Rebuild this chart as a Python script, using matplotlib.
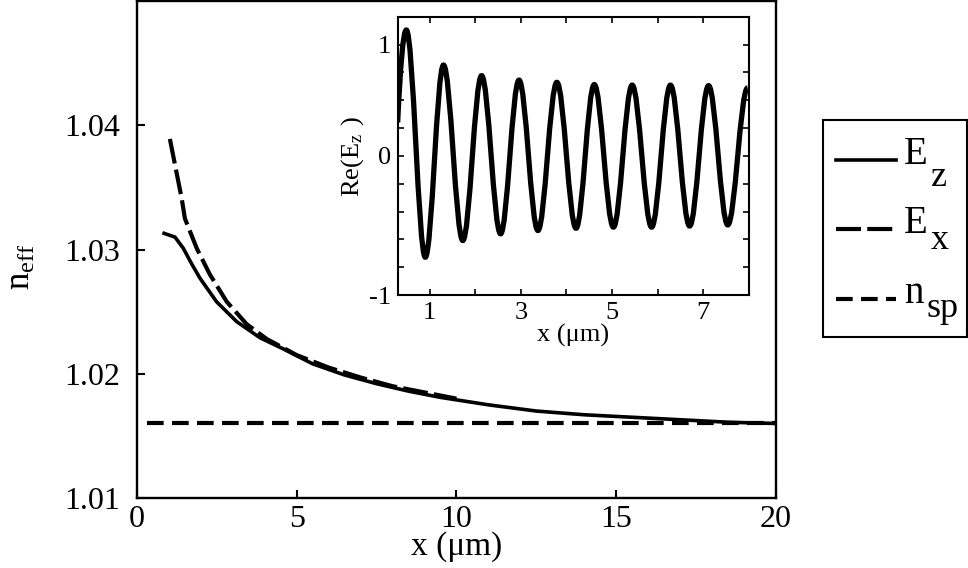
import matplotlib
matplotlib.use("Agg")
import numpy as np
import matplotlib.pyplot as plt
from matplotlib.path import Path
from matplotlib.patches import PathPatch, Rectangle
from matplotlib.text import Annotation
from matplotlib.legend_handler import HandlerLine2D

plt.rcParams['font.family'] = ['Liberation Serif', 'DejaVu Serif']
plt.rcParams['mathtext.fontset'] = 'custom'
plt.rcParams['mathtext.rm'] = 'Liberation Serif'

# main plot: effective index vs x
xEz = [0.85, 1.19, 1.45, 1.70, 1.97, 2.49, 3.12, 3.85, 4.58, 5.5, 6.5, 7.5, 8.5, 9.5, 11.0, 12.5, 14.0, 15.5, 17.0, 18.5, 20.0]
nEz = [1.0313, 1.0310, 1.0301, 1.0289, 1.0277, 1.0258, 1.0242, 1.0229, 1.0220, 1.0208, 1.0199, 1.0192, 1.0186, 1.0181, 1.0175, 1.0170, 1.0167, 1.0165, 1.0163, 1.0161, 1.0160]
xEx = [1.03, 1.40, 1.50, 1.87, 2.28, 2.81, 3.43, 4.06, 5.0, 6.0, 7.0, 8.0, 9.0, 10.0]
nEx = [1.0389, 1.0341, 1.0325, 1.0301, 1.0280, 1.0258, 1.0240, 1.0228, 1.0215, 1.0205, 1.0197, 1.0190, 1.0185, 1.0180]
xsp = [0.3, 20.0]
nsp = [1.016, 1.016]

# inset: Re(Ez) field, start point then peaks/troughs
xf = [0.30, 0.49, 0.906, 1.305, 1.728, 2.14, 2.556, 2.96, 3.375, 3.79, 4.21, 4.61, 5.03, 5.44, 5.867, 6.28, 6.70, 7.115, 7.536, 7.97]
ef = [0.30, 1.13, -0.91, 0.815, -0.76, 0.72, -0.70, 0.68, -0.67, 0.66, -0.65, 0.64, -0.64, 0.635, -0.64, 0.635, -0.63, 0.63, -0.62, 0.61]

leg_main = ['E', 'E', 'n']
leg_sub = ['z', 'x', 'sp']


class LowLine(HandlerLine2D):
    # legend line drawn a bit lower than matplotlib's default
    def create_artists(self, legend, orig_handle, xdescent, ydescent, width, height, fontsize, trans):
        arts = super().create_artists(legend, orig_handle, xdescent, ydescent, width, height, fontsize, trans)
        for a in arts:
            a.set_ydata(np.asarray(a.get_ydata()) - 0.25 * fontsize)
        return arts


fig = plt.figure(figsize=(9.68, 5.68), dpi=100)
ax = fig.add_axes([0.1415, 0.1232, 0.6601, 0.8750])
l1, = ax.plot(xEz, nEz, 'k-', lw=2.6)
l2, = ax.plot(xEx, nEx, 'k', lw=3, ls=(0, (6, 1.5)))
l3, = ax.plot(xsp, nsp, 'k', lw=3, ls=(0, (4, 2)))
ax.set_xlim(0, 20)
ax.set_ylim(1.01, 1.05)
ax.set_xticks([0, 5, 10, 15, 20])
ax.set_xticklabels(['0', '5', '10', '15', '20'])
ax.set_yticks([1.01, 1.02, 1.03, 1.04])
ax.set_yticklabels(['1.01', '1.02', '1.03', '1.04'])
ax.tick_params(direction='in', length=6, width=1.5, labelsize=23, top=False, right=False)
ax.tick_params(axis='y', pad=12)
ax.tick_params(axis='x', pad=5)
for s in ax.spines.values():
    s.set_linewidth(1.7)
ax.set_xlabel('x (μm)', fontsize=24, labelpad=-2)
ax.set_ylabel(r'$\mathregular{n_{eff}}$', fontsize=25)
ax.yaxis.set_label_coords(-0.155, 0.465)

# legend frame drawn separately so its size matches the figure
fig.patches.append(Rectangle((0.8502, 0.4067), 0.1485, 0.382, transform=fig.transFigure,
                             fill=False, ec='k', lw=1.5))
leg = fig.legend(handles=[l1, l2, l3], labels=leg_main, handler_map={matplotlib.lines.Line2D: LowLine()},
                 loc='upper left', bbox_to_anchor=(0.8636, 0.7613),
                 fontsize=28, frameon=False, handlelength=1.55, handletextpad=0.2,
                 labelspacing=0.84, borderpad=0, borderaxespad=0)
sub_dx = [19.4, 19.4, 16.5]
sub_dy = [-10, -5, -4]
for t, sub, dx, dy in zip(leg.get_texts(), leg_sub, sub_dx, sub_dy):
    fig.add_artist(Annotation(sub, xy=(0, 0), xycoords=t, xytext=(dx, dy), textcoords='offset points',
                              fontsize=26, va='baseline', ha='left', annotation_clip=False, zorder=10))

ins = fig.add_axes([0.4108, 0.4806, 0.3629, 0.4900])
verts = [(xf[0], ef[0])]
codes = [Path.MOVETO]
for i in range(1, len(xf)):
    x0, y0, x1, y1 = xf[i-1], ef[i-1], xf[i], ef[i]
    dx, dy = x1 - x0, y1 - y0
    if i == 1:
        c1 = (x0 + 0.3 * dx, y0 + 0.6 * dy)
    else:
        c1 = (x0 + 0.363 * dx, y0)
    c2 = (x1 - 0.363 * dx, y1)
    verts += [c1, c2, (x1, y1)]
    codes += [Path.CURVE4] * 3
ins.add_patch(PathPatch(Path(verts, codes), fill=False, lw=3.8, ec='k', capstyle='butt'))
ins.set_xlim(0.3, 8)
ins.set_ylim(-1.25, 1.25)
ins.set_xticks([1, 2, 3, 4, 5, 6, 7])
ins.set_xticklabels(['1', '', '3', '', '5', '', '7'])
yt = [-1.25, -1.0, -0.75, -0.5, -0.25, 0, 0.25, 0.5, 0.75, 1.0, 1.25]
ins.set_yticks(yt)
ins.set_yticklabels(['-1', '', '', '', '', '0', '', '', '', '1', ''])
ins.tick_params(direction='in', length=4, width=1.2, labelsize=19, top=True, right=True, pad=5)
for s in ins.spines.values():
    s.set_linewidth(1.5)
ins.set_xlabel('x (μm)', fontsize=19, labelpad=0)
ins.set_ylabel(r'$\mathregular{Re(E_z\ )}$', fontsize=19, labelpad=2)

fig.canvas.draw()
fig.savefig('out.png', dpi=100)
